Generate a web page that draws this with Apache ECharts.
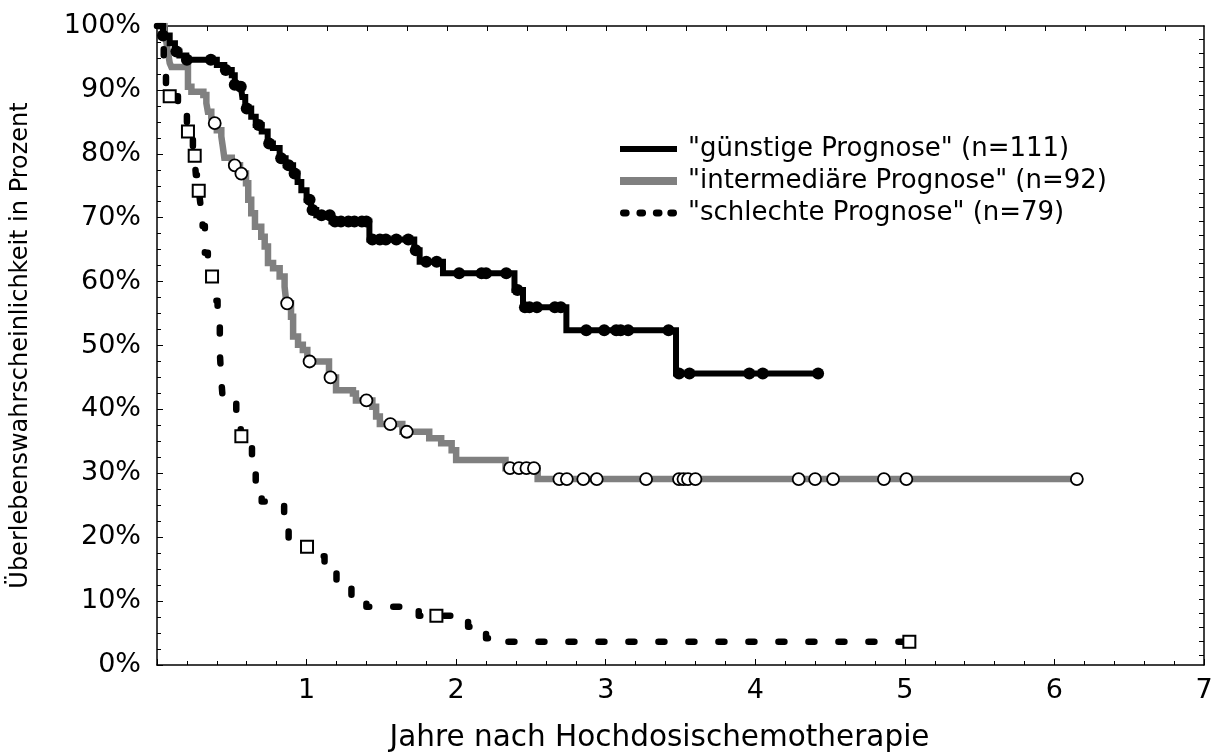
<!DOCTYPE html>
<html>
<head>
<meta charset="utf-8">
<script src="https://cdn.jsdelivr.net/npm/echarts@6/dist/echarts.min.js"></script>
<style>
  html, body { margin: 0; padding: 0; background: #fff; }
  #chart { width: 1214px; height: 753px; }
</style>
</head>
<body>
<div id="chart"></div>
<script>
// Kaplan-Meier steps: time in years, survival in %
const seriesNames = ['"günstige Prognose" (n=111)', '"intermediäre Prognose" (n=92)', '"schlechte Prognose" (n=79)']

const goodTimes = [0, 0.04, 0.085, 0.12, 0.15, 0.196, 0.40, 0.45, 0.50, 0.52, 0.56, 0.57, 0.59, 0.63, 0.66, 0.70, 0.74, 0.775, 0.82, 0.86, 0.91, 0.94, 0.965, 1.0, 1.03, 1.065, 1.166, 1.42, 1.72, 1.756, 1.912, 2.39, 2.447, 2.737, 3.47, 4.42]
const goodSurv = [100, 98.5, 97.3, 96.0, 95.4, 94.7, 93.9, 93.1, 92.3, 90.8, 90.5, 88.9, 87.1, 85.8, 84.5, 83.5, 81.6, 80.9, 79.3, 78.2, 76.9, 75.6, 74.3, 72.8, 71.2, 70.4, 69.4, 66.6, 64.9, 63.1, 61.3, 58.7, 56.0, 52.4, 45.6, 45.6]
const goodCensTimes = [0.04, 0.13, 0.20, 0.36, 0.46, 0.52, 0.56, 0.60, 0.68, 0.75, 0.83, 0.88, 0.92, 1.02, 1.04, 1.10, 1.155, 1.19, 1.23, 1.28, 1.32, 1.37, 1.40, 1.44, 1.49, 1.53, 1.60, 1.68, 1.73, 1.80, 1.87, 2.02, 2.17, 2.20, 2.335, 2.41, 2.46, 2.49, 2.54, 2.66, 2.70, 2.87, 2.99, 3.07, 3.10, 3.15, 3.42, 3.49, 3.56, 3.96, 4.05, 4.42]
const goodCensSurv = [98.5, 96.0, 94.7, 94.7, 93.1, 90.8, 90.5, 87.1, 84.5, 81.6, 79.3, 78.2, 76.9, 72.8, 71.2, 70.4, 70.4, 69.4, 69.4, 69.4, 69.4, 69.4, 69.4, 66.6, 66.6, 66.6, 66.6, 66.6, 64.9, 63.1, 63.1, 61.3, 61.3, 61.3, 61.3, 58.7, 56.0, 56.0, 56.0, 56.0, 56.0, 52.4, 52.4, 52.4, 52.4, 52.4, 52.4, 45.6, 45.6, 45.6, 45.6, 45.6]

const midTimes = [0, 0.05, 0.06, 0.073, 0.085, 0.096, 0.207, 0.23, 0.31, 0.33, 0.34, 0.363, 0.375, 0.40, 0.43, 0.44, 0.45, 0.50, 0.555, 0.595, 0.61, 0.63, 0.655, 0.697, 0.72, 0.742, 0.776, 0.82, 0.853, 0.865, 0.896, 0.91, 0.943, 0.975, 1.005, 1.15, 1.197, 1.31, 1.33, 1.44, 1.465, 1.49, 1.64, 1.82, 1.90, 1.97, 2.00, 2.33, 2.545, 6.16]
const midSurv = [100, 98.6, 97.8, 96.0, 94.2, 93.6, 90.5, 89.7, 89.2, 87.9, 86.6, 85.6, 84.8, 83.7, 82.7, 81.1, 79.4, 78.2, 76.9, 75.4, 72.8, 70.7, 68.6, 67.0, 65.5, 62.9, 62.1, 60.8, 59.2, 56.6, 54.5, 51.4, 50.1, 49.3, 47.5, 45.0, 43.0, 42.5, 41.4, 40.4, 38.9, 37.7, 36.5, 35.5, 34.7, 33.6, 32.1, 30.8, 29.1, 29.1]
const midCensTimes = [0.386, 0.52, 0.564, 0.87, 1.02, 1.16, 1.40, 1.56, 1.67, 2.36, 2.42, 2.47, 2.52, 2.69, 2.74, 2.85, 2.94, 3.27, 3.49, 3.52, 3.55, 3.60, 4.29, 4.40, 4.52, 4.86, 5.01, 6.15]
const midCensSurv = [84.8, 78.2, 76.9, 56.6, 47.5, 45.0, 41.4, 37.7, 36.5, 30.8, 30.8, 30.8, 30.8, 29.1, 29.1, 29.1, 29.1, 29.1, 29.1, 29.1, 29.1, 29.1, 29.1, 29.1, 29.1, 29.1, 29.1, 29.1]

const poorTimes = [0, 0.045, 0.06, 0.14, 0.20, 0.24, 0.25, 0.26, 0.28, 0.29, 0.305, 0.32, 0.34, 0.385, 0.405, 0.42, 0.43, 0.44, 0.53, 0.56, 0.59, 0.635, 0.66, 0.70, 0.85, 0.88, 1.0, 1.06, 1.12, 1.20, 1.30, 1.40, 1.75, 2.08, 2.20, 2.25, 5.03]
const poorSurv = [100, 95.2, 89.0, 86.0, 83.5, 81.0, 79.7, 76.7, 74.2, 72.2, 68.7, 64.5, 60.8, 57.0, 53.2, 48.9, 44.6, 41.4, 38.2, 35.8, 34.4, 31.4, 27.3, 25.6, 22.8, 19.9, 18.5, 17.0, 15.8, 13.0, 10.8, 9.1, 7.7, 6.0, 4.2, 3.65, 3.65]
const poorCensTimes = [0.085, 0.207, 0.252, 0.279, 0.368, 0.564, 1.003, 1.868, 5.03]
const poorCensSurv = [89.0, 83.5, 79.7, 74.2, 60.8, 35.8, 18.5, 7.7, 3.65]

const font = 'DejaVu Sans, Verdana, sans-serif'
const fs = 26

const pairs = (xs, ys) => xs.map((x, i) => [x, ys[i]])

// decorative frame ticks on the top and right edges (pixel units)
const topTicks = []
for (let p = 10.7; p < 1046; p += 39.9) topTicks.push(p)
const rightTicks = []
for (let p = 625.7; p > 0; p -= 14) rightTicks.push(p)

const chart = echarts.init(document.getElementById('chart'))

const frameLine = { show: true, onZero: false, lineStyle: { color: '#000', width: 1.5 } }

chart.setOption({
  backgroundColor: '#fff',
  animation: false,
  textStyle: { fontFamily: font },
  grid: { left: 157, right: 10, top: 26, bottom: 88, containLabel: false, outerBoundsMode: 'none' },
  legend: {
    orient: 'vertical',
    left: 615,
    top: 131,
    itemWidth: 57,
    itemHeight: 8,
    itemGap: 6,
    selectedMode: false,
    textStyle: { fontFamily: font, fontSize: fs, color: '#000', padding: [0, 0, 0, 6] },
    data: [
      { name: seriesNames[0], icon: 'path://M0,0H57V6H0Z' },
      { name: seriesNames[1], icon: 'path://M0,0H51V7H0Z' },
      { name: seriesNames[2], icon: 'path://M3,0h3a3.5,3.5 0 0 1 0,7h-3a3.5,3.5 0 0 1 0,-7Z M20,0h3a3.5,3.5 0 0 1 0,7h-3a3.5,3.5 0 0 1 0,-7Z M37,0h3a3.5,3.5 0 0 1 0,7h-3a3.5,3.5 0 0 1 0,-7Z M52,0h3a3.5,3.5 0 0 1 0,7h-3a3.5,3.5 0 0 1 0,-7Z' },
    ],
  },
  xAxis: [
    {
      type: 'value',
      min: 0,
      max: 7,
      interval: 1,
      position: 'bottom',
      name: 'Jahre nach Hochdosischemotherapie',
      nameLocation: 'middle',
      nameGap: 58,
      nameTextStyle: { fontFamily: font, fontSize: 29.5, color: '#000', padding: [0, 42, 0, 0] },
      axisLine: frameLine,
      axisTick: { inside: true, length: 6, lineStyle: { color: '#000', width: 1 } },
      minorTick: { show: true, splitNumber: 5, length: 4, lineStyle: { color: '#000', width: 1 } },
      axisLabel: {
        color: '#000',
        fontSize: 27,
        fontFamily: font,
        margin: 12,
        formatter: (v) => (v === 0 ? '' : String(v)),
      },
      splitLine: { show: false },
    },
    {
      type: 'value',
      min: 0,
      max: 1047,
      position: 'top',
      axisLine: frameLine,
      axisTick: { show: true, inside: true, length: 5, customValues: topTicks, lineStyle: { color: '#000' } },
      axisLabel: { show: false },
      splitLine: { show: false },
    },
  ],
  yAxis: [
    {
      type: 'value',
      min: 0,
      max: 100,
      interval: 10,
      name: 'Überlebenswahrscheinlichkeit in Prozent',
      nameLocation: 'middle',
      nameGap: 124,
      nameTextStyle: { fontFamily: font, fontSize: 24, color: '#000' },
      axisLine: frameLine,
      axisTick: { show: true, inside: true, length: 6, lineStyle: { color: '#000', width: 1 } },
      minorTick: { show: true, splitNumber: 4, length: 4, lineStyle: { color: '#000', width: 1 } },
      axisLabel: { color: '#000', fontSize: 27, fontFamily: font, margin: 16, formatter: '{value}%' },
      splitLine: { show: false },
    },
    {
      type: 'value',
      min: 0,
      max: 639,
      position: 'right',
      axisLine: frameLine,
      axisTick: { show: true, inside: true, length: 5, customValues: rightTicks, lineStyle: { color: '#000' } },
      axisLabel: { show: false },
      splitLine: { show: false },
    },
  ],
  series: [
    {
      name: seriesNames[0],
      type: 'line',
      step: 'end',
      symbol: 'none',
      color: '#000',
      lineStyle: { color: '#000', width: 6, join: 'miter' },
      data: pairs(goodTimes, goodSurv),
      z: 3,
    },
    {
      name: seriesNames[1],
      type: 'line',
      step: 'end',
      symbol: 'none',
      color: '#808080',
      lineStyle: { color: '#808080', width: 6.5, join: 'miter' },
      data: pairs(midTimes, midSurv),
      z: 2,
    },
    {
      name: seriesNames[2],
      type: 'line',
      step: 'end',
      symbol: 'none',
      color: '#000',
      lineStyle: { color: '#000', width: 6.5, type: [6, 24], cap: 'round', join: 'round' },
      data: pairs(poorTimes, poorSurv),
      z: 2,
    },
    {
      name: 'good-censored',
      type: 'scatter',
      symbol: 'circle',
      symbolSize: 12,
      itemStyle: { color: '#000', opacity: 1 },
      data: pairs(goodCensTimes, goodCensSurv),
      z: 4,
    },
    {
      name: 'mid-censored',
      type: 'scatter',
      symbol: 'circle',
      symbolSize: 12,
      itemStyle: { color: '#fff', borderColor: '#000', borderWidth: 1.8, opacity: 1 },
      data: pairs(midCensTimes, midCensSurv),
      z: 4,
    },
    {
      name: 'poor-censored',
      type: 'scatter',
      symbol: 'rect',
      symbolSize: 12,
      itemStyle: { color: '#fff', borderColor: '#000', borderWidth: 2, opacity: 1 },
      data: pairs(poorCensTimes, poorCensSurv),
      z: 4,
    },
  ],
})
</script>
</body>
</html>
